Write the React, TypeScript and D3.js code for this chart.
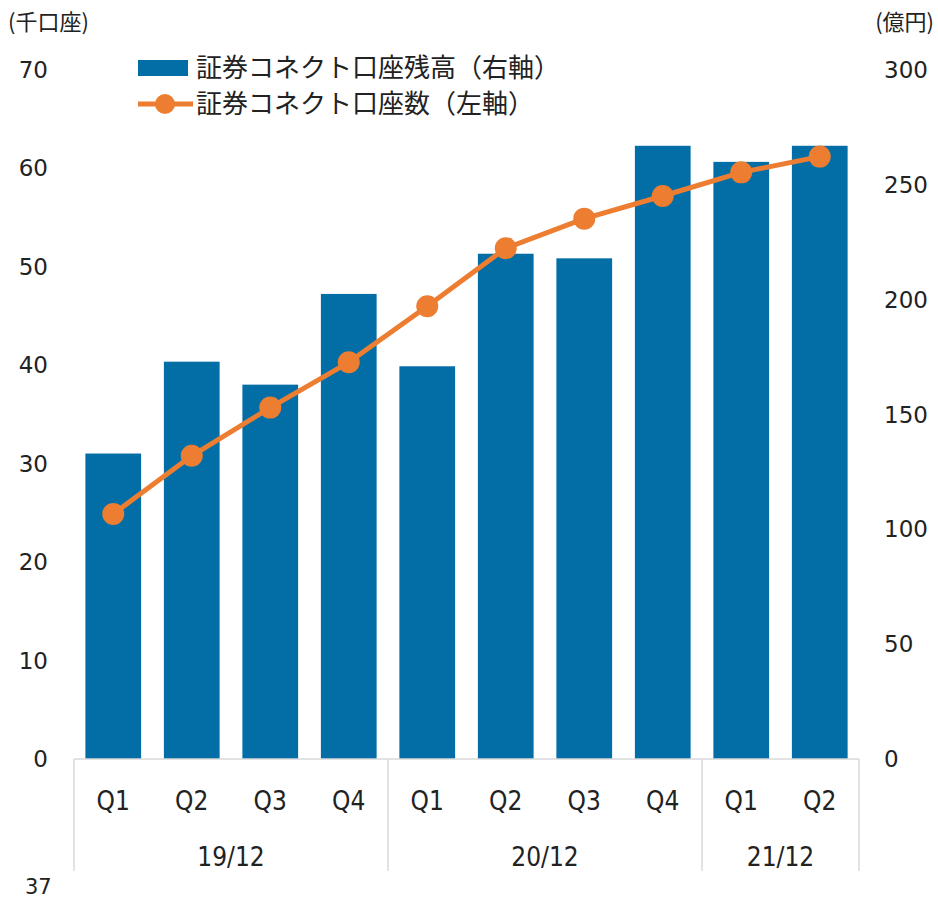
import React from 'react';
import * as d3 from 'd3';

const width = 938;
const height = 899;
const blue = '#036EA6';
const orange = '#ED7D31';
const axisGray = '#D9D9D9';

const quarters = ['Q1', 'Q2', 'Q3', 'Q4', 'Q1', 'Q2', 'Q3', 'Q4', 'Q1', 'Q2'];
const years = ['19/12', '20/12', '21/12'];
const yearSpans = [4, 4, 2];
// 証券コネクト口座残高 (億円, right axis)
const balance = [133, 173, 163, 202.5, 171, 220, 218, 267, 260, 267];
// 証券コネクト口座数 (千口座, left axis)
const accounts = [24.9, 30.8, 35.7, 40.3, 46.0, 51.9, 54.9, 57.2, 59.6, 61.2];
const leftTicks = [0, 10, 20, 30, 40, 50, 60, 70];
const rightTicks = [0, 50, 100, 150, 200, 250, 300];

const numFont = '"DejaVu Sans", Verdana, sans-serif';
const narrowFont = '"DejaVu Sans Condensed", "DejaVu Sans", sans-serif';
const jpFont = '"Noto Sans CJK JP", sans-serif';

export default function App() {
  const margin = { top: 70, right: 79, bottom: 140, left: 74 };
  const x0 = margin.left;
  const x1 = width - margin.right;
  const yBase = height - margin.bottom;

  const keys = quarters.map((_, i) => i);
  const x = d3.scaleBand<number>().domain(keys).range([x0, x1]).paddingInner(0.29).paddingOuter(0.145);
  const yLeft = d3.scaleLinear().domain([0, 70]).range([yBase, margin.top]);
  const yRight = d3.scaleLinear().domain([0, 300]).range([yBase, margin.top]);
  const step = x.step();

  const line = d3
    .line<number>()
    .x((_, i) => x(i)! + x.bandwidth() / 2)
    .y((d) => yLeft(d));

  // group boundaries
  const bounds: number[] = [x0];
  let acc = 0;
  yearSpans.forEach((s) => {
    acc += s;
    bounds.push(x0 + acc * step);
  });

  return (
    <svg width={width} height={height} style={{ position: 'absolute', left: 0, top: 0 }}>
      <rect width={width} height={height} fill="#fff" />
      {/* units */}
      <text x={8} y={30} fontFamily={jpFont} fontSize={22} fill="#222">(千口座)</text>
      <text x={934} y={30} textAnchor="end" fontFamily={jpFont} fontSize={22} fill="#222">(億円)</text>

      {/* bars */}
      {balance.map((v, i) => (
        <rect key={i} x={x(i)} y={yRight(v)} width={x.bandwidth()} height={yBase - yRight(v)} fill={blue} />
      ))}

      {/* line */}
      <path d={line(accounts) ?? ''} fill="none" stroke={orange} strokeWidth={5} strokeLinejoin="round" />
      {accounts.map((v, i) => (
        <circle key={i} cx={x(i)! + x.bandwidth() / 2} cy={yLeft(v)} r={11} fill={orange} />
      ))}

      {/* left axis */}
      {leftTicks.map((t) => (
        <text key={t} x={48} y={yLeft(t)} dy="0.35em" textAnchor="end" fontFamily={numFont} fontSize={23} fill="#222">
          {t}
        </text>
      ))}
      {/* right axis */}
      {rightTicks.map((t) => (
        <text key={t} x={884} y={yRight(t)} dy="0.35em" fontFamily={numFont} fontSize={23} fill="#222">
          {t}
        </text>
      ))}

      {/* x axis */}
      <line x1={x0} x2={x1} y1={yBase} y2={yBase} stroke={axisGray} strokeWidth={1.5} />
      {bounds.map((b, i) => (
        <line key={i} x1={b} x2={b} y1={yBase} y2={yBase + 112} stroke={axisGray} strokeWidth={1.5} />
      ))}
      {quarters.map((q, i) => (
        <text key={i} x={x(i)! + x.bandwidth() / 2} y={801} dy="0.35em" textAnchor="middle" fontFamily={narrowFont} fontSize={26} fill="#222">
          {q}
        </text>
      ))}
      {years.map((yr, i) => (
        <text key={yr} x={(bounds[i] + bounds[i + 1]) / 2} y={857} dy="0.35em" textAnchor="middle" fontFamily={narrowFont} fontSize={26} fill="#222">
          {yr}
        </text>
      ))}
      <text x={25} y={887} dy="0.35em" fontFamily={numFont} fontSize={21} fill="#222">37</text>

      {/* legend */}
      <rect x={138} y={60} width={50} height={16} fill={blue} />
      <text x={196} y={68} dy="0.35em" fontFamily={jpFont} fontSize={26} fill="#222">証券コネクト口座残高（右軸）</text>
      <line x1={138} x2={193} y1={104} y2={104} stroke={orange} strokeWidth={5} />
      <circle cx={165} cy={104} r={10} fill={orange} />
      <text x={196} y={104} dy="0.35em" fontFamily={jpFont} fontSize={26} fill="#222">証券コネクト口座数（左軸）</text>
    </svg>
  );
}
